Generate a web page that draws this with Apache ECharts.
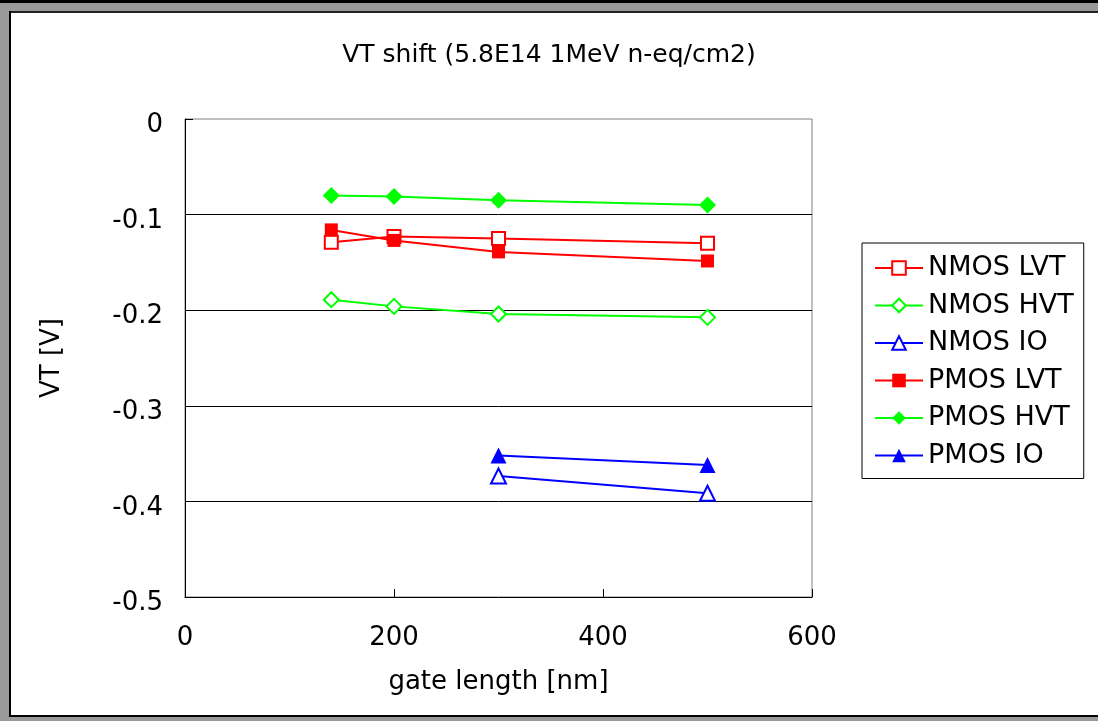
<!DOCTYPE html>
<html>
<head>
<meta charset="utf-8">
<script src="https://cdn.jsdelivr.net/npm/echarts@6/dist/echarts.min.js"></script>
<style>
  html, body { margin: 0; padding: 0; background: #fff; }
  #chart { width: 1098px; height: 721px; }
</style>
</head>
<body>
<div id="chart"></div>
<script>
// gate length [nm]
const gateLength = [140, 200, 300, 500]
const ioLength = [300, 500]

// VT shift [V]
const nmosLvt = [-0.129, -0.123, -0.125, -0.130]
const nmosHvt = [-0.189, -0.196, -0.204, -0.2075]
const nmosIo = [-0.3735, -0.3915]
const pmosLvt = [-0.116, -0.127, -0.139, -0.1485]
const pmosHvt = [-0.080, -0.081, -0.085, -0.090]
const pmosIo = [-0.352, -0.362]

const font = 'DejaVu Sans, Arial, sans-serif'

const pairs = (xs, ys) => xs.map((x, i) => [x, ys[i]])

const mkSeries = (name, xs, ys, color, symbol, size, open) => ({
  name,
  type: 'line',
  data: pairs(xs, ys),
  symbol,
  symbolSize: size,
  showAllSymbol: true,
  lineStyle: { color, width: 2 },
  itemStyle: open
    ? { color: '#fff', borderColor: color, borderWidth: 2 }
    : { color, borderColor: color, borderWidth: 0 },
  emphasis: { disabled: true },
  animation: false,
  z: open ? 2 : 3,
})

const chart = echarts.init(document.getElementById('chart'))

chart.setOption({
  backgroundColor: '#fff',
  animation: false,
  title: {
    text: 'VT shift (5.8E14 1MeV n-eq/cm2)',
    left: 'center',
    top: 38,
    textStyle: { fontFamily: font, fontSize: 25, fontWeight: 'normal', color: '#000' },
  },
  grid: {
    left: 185,
    top: 119,
    width: 627,
    height: 478,
    show: true,
    borderColor: '#808080',
    borderWidth: 1,
    backgroundColor: 'transparent',
  },
  legend: {
    orient: 'vertical',
    left: 862,
    top: 243,
    padding: [10, 10, 8, 12],
    itemGap: 7.5,
    itemWidth: 48,
    itemHeight: 17,
    borderColor: '#000',
    borderWidth: 1,
    backgroundColor: '#fff',
    textStyle: { fontFamily: font, fontSize: 27, color: '#000', lineHeight: 30 },
    data: ['NMOS LVT', 'NMOS HVT', 'NMOS IO', 'PMOS LVT', 'PMOS HVT', 'PMOS IO'],
  },
  xAxis: {
    type: 'value',
    min: 0,
    max: 600,
    interval: 200,
    name: 'gate length [nm]',
    nameLocation: 'middle',
    nameGap: 72,
    nameTextStyle: { fontFamily: font, fontSize: 26, color: '#000' },
    axisLine: { onZero: false, lineStyle: { color: '#000', width: 1 } },
    axisTick: { inside: true, length: 8, lineStyle: { color: '#000' } },
    axisLabel: { margin: 28, fontFamily: font, fontSize: 26, color: '#000' },
    splitLine: { show: false },
  },
  yAxis: {
    type: 'value',
    min: -0.5,
    max: 0,
    interval: 0.1,
    name: 'VT [V]',
    nameLocation: 'middle',
    nameGap: 120,
    nameTextStyle: { fontFamily: font, fontSize: 26, color: '#000' },
    axisLine: { onZero: false, lineStyle: { color: '#000', width: 1 } },
    axisTick: { inside: true, length: 8, lineStyle: { color: '#000' } },
    axisLabel: {
      margin: 22,
      formatter: v => '{v|' + (Math.abs(v) < 1e-9 ? '0' : v.toFixed(1)) + '}',
      rich: {
        v: { fontFamily: font, fontSize: 26, color: '#000', padding: [13, 0, 0, 0] },
      },
    },
    splitLine: {
      show: true,
      lineStyle: { color: ['transparent', '#000', '#000', '#000', '#000', 'transparent'], width: 1 },
    },
  },
  series: [
    mkSeries('NMOS LVT', gateLength, nmosLvt, '#ff0000', 'rect', 13, true),
    mkSeries('NMOS HVT', gateLength, nmosHvt, '#00ff00', 'diamond', 15, true),
    mkSeries('NMOS IO', ioLength, nmosIo, '#0000ff', 'triangle', 15, true),
    mkSeries('PMOS LVT', gateLength, pmosLvt, '#ff0000', 'rect', 13, false),
    mkSeries('PMOS HVT', gateLength, pmosHvt, '#00ff00', 'diamond', 17, false),
    mkSeries('PMOS IO', ioLength, pmosIo, '#0000ff', 'triangle', 16, false),
  ],
  graphic: [
    // window-style frame around the chart
    { type: 'rect', shape: { x: 0, y: 0, width: 1098, height: 3 }, style: { fill: '#000' }, silent: true },
    { type: 'rect', shape: { x: 0, y: 3, width: 1098, height: 8 }, style: { fill: '#999' }, silent: true },
    { type: 'rect', shape: { x: 9, y: 11, width: 1089, height: 2 }, style: { fill: '#222' }, silent: true },
    { type: 'rect', shape: { x: 0, y: 3, width: 9, height: 718 }, style: { fill: '#999' }, silent: true },
    { type: 'rect', shape: { x: 9, y: 11, width: 2, height: 706 }, style: { fill: '#000' }, silent: true },
    { type: 'rect', shape: { x: 9, y: 715, width: 1089, height: 2 }, style: { fill: '#000' }, silent: true },
    { type: 'rect', shape: { x: 0, y: 717, width: 1098, height: 4 }, style: { fill: '#999' }, silent: true },
  ],
})
</script>
</body>
</html>
